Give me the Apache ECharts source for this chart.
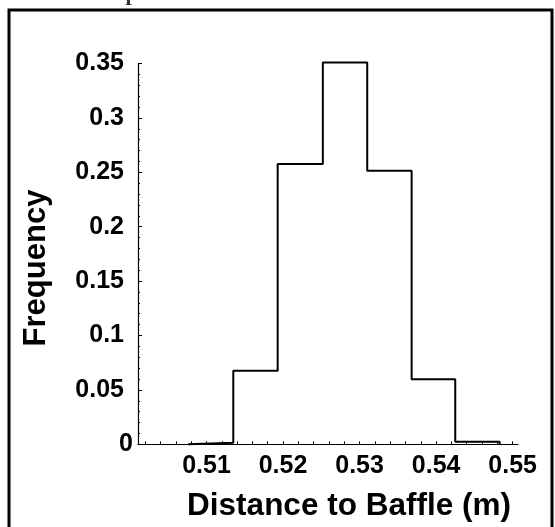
<!DOCTYPE html>
<html>
<head>
<meta charset="utf-8">
<script src="https://cdn.jsdelivr.net/npm/echarts@6/dist/echarts.min.js"></script>
<style>
html,body{margin:0;padding:0;background:#fff;}
#chart{width:555px;height:527px;}
</style>
</head>
<body>
<div id="chart"></div>
<script>
// Histogram bin edges (m) and frequencies
const binEdges = [0.5076, 0.5135, 0.5193, 0.5252, 0.5310, 0.5368, 0.5425, 0.5483];
const frequencies = [0.0015, 0.0676, 0.2576, 0.3510, 0.2515, 0.0597, 0.0024];
const xTickLabels = [0.51, 0.52, 0.53, 0.54, 0.55];
const xMinorTicks = [0.502,0.504,0.506,0.508,0.51,0.512,0.514,0.516,0.518,0.52,0.522,0.524,0.526,0.528,0.53,0.532,0.534,0.536,0.538,0.54,0.542,0.544,0.546,0.548,0.55];
const yTickLabels = [0, 0.05, 0.1, 0.15, 0.2, 0.25, 0.3, 0.35];
const xTitle = 'Distance to Baffle (m)';
const yTitle = 'Frequency';

// build stair outline from bins
const outline = [[binEdges[0], 0]];
for (let i = 0; i < frequencies.length; i++) {
  outline.push([binEdges[i], frequencies[i]]);
  outline.push([binEdges[i + 1], frequencies[i]]);
}
outline.push([binEdges[binEdges.length - 1], 0]);

const chart = echarts.init(document.getElementById('chart'), null, {renderer: 'canvas'});
const font = '"Liberation Sans", Arial, Helvetica, sans-serif';

chart.setOption({
  animation: false,
  backgroundColor: '#fff',
  grid: {left: 138, right: 37, top: 63.5, bottom: 82.7, containLabel: false},
  xAxis: {
    type: 'value',
    min: 0.50105,
    max: 0.5507,
    axisLine: {show: true, onZero: false, lineStyle: {color: '#000', width: 1.2}},
    axisTick: {show: true, inside: true, length: 3, customValues: xMinorTicks, lineStyle: {color: '#000', width: 1}},
    axisLabel: {
      show: true, customValues: xTickLabels, margin: 9,
      color: '#000', fontFamily: font, fontWeight: 'bold', fontSize: 25,
      formatter: v => v.toFixed(2)
    },
    splitLine: {show: false}
  },
  yAxis: {
    type: 'value',
    min: 0, max: 0.35, interval: 0.05,
    axisLine: {show: true, lineStyle: {color: '#000', width: 1.2}},
    axisTick: {show: true, inside: true, length: 4, lineStyle: {color: '#000'}},
    minorTick: {show: true, splitNumber: 5, length: 2, lineStyle: {color: '#000'}},
    axisLabel: {
      show: true, margin: 5,
      customValues: yTickLabels,
      formatter: v => {
        const r = Math.round(v * 100) / 100;
        return r === 0 ? '{z|0}' : '{n|' + String(r) + '}';
      },
      rich: {
        z: {color: '#000', fontFamily: font, fontWeight: 'bold', fontSize: 25},
        n: {color: '#000', fontFamily: font, fontWeight: 'bold', fontSize: 25, padding: [0, 9, 0, 0]}
      }
    },
    splitLine: {show: false}
  },
  series: [{
    type: 'line',
    data: outline,
    showSymbol: false,
    symbol: 'none',
    clip: false,
    lineStyle: {color: '#000', width: 2},
    silent: true
  }],
  graphic: [
    {type: 'rect', shape: {x: 9, y: 10, width: 543, height: 530}, style: {fill: null, stroke: '#000', lineWidth: 3}, silent: true},
    {type: 'text', left: 93, top: -17, style: {text: 'Fit plots are listed in Table 4.1.', font: 'bold 22px "Liberation Serif", serif', fill: '#333'}},
    {type: 'text', x: 349, y: 506, style: {text: xTitle, font: 'bold 31.5px ' + font, fill: '#000', align: 'center', verticalAlign: 'middle'}},
    {type: 'text', x: 36, y: 268, rotation: Math.PI / 2, style: {text: yTitle, font: 'bold 31px ' + font, fill: '#000', align: 'center', verticalAlign: 'middle'}}
  ]
});
</script>
</body>
</html>
